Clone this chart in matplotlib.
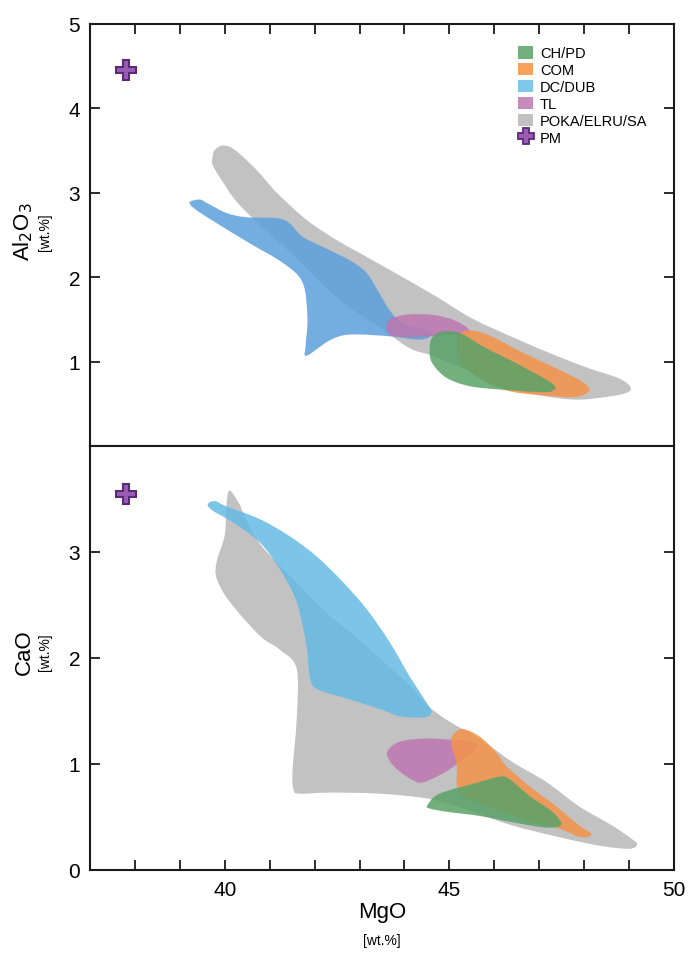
import numpy as np
import matplotlib
matplotlib.use("Agg")
import matplotlib.pyplot as plt
from matplotlib.path import Path
from matplotlib.patches import PathPatch, Patch
from matplotlib.lines import Line2D
from matplotlib.ticker import MultipleLocator

plt.rcParams['font.family'] = ['Liberation Sans', 'DejaVu Sans']

# ---------------------------------------------------------------- data
groups = ["CH/PD", "COM", "DC/DUB", "TL", "POKA/ELRU/SA"]
legend_colors = ["#72b07f", "#f6a35e", "#7ec8ea", "#c88bbd", "#c0c1c0"]

# fill colours (drawn with alpha)
fill_green = "#59a268"
fill_orange = "#f4934a"
fill_blue_al = "#5ca0db"
fill_blue_ca = "#65bae4"
fill_pink = "#be76b1"
fill_gray = "#b8b8b8"

# Primitive mantle
pm_mgo = 37.8
pm_al2o3 = 4.45
pm_cao = 3.55

# Field outlines, MgO vs Al2O3 (wt.%)
al_poka_mgo = [39.73, 39.78, 39.96, 40.22, 40.71, 41.16, 41.82, 42.49, 43.16, 43.96,
               44.71, 45.51, 46.49, 47.38, 48.11, 48.78, 49.04, 48.89, 48.33, 47.78,
               47.0, 46.11, 45.44, 44.62, 44.11, 43.38, 42.62, 42.04, 41.44, 40.78,
               40.27, 39.93, 39.73]
al_poka_al = [3.43, 3.51, 3.56, 3.51, 3.27, 3.00, 2.68, 2.44, 2.24, 2.00,
              1.77, 1.51, 1.27, 1.07, 0.92, 0.80, 0.69, 0.62, 0.57, 0.55,
              0.60, 0.71, 0.89, 1.07, 1.16, 1.43, 1.70, 1.99, 2.30, 2.62,
              2.89, 3.15, 3.33]

al_dc_mgo = [39.22, 39.44, 39.6, 40.04, 40.49, 41.16, 41.44, 41.73, 42.18, 42.78,
             43.16, 43.44, 43.67, 43.96, 44.49, 44.6, 44.33, 43.67, 42.78, 42.33,
             41.82, 41.8, 41.84, 41.73, 41.29, 40.56, 39.82, 39.33]
al_dc_al = [2.89, 2.92, 2.88, 2.76, 2.71, 2.70, 2.64, 2.48, 2.36, 2.20,
            2.05, 1.81, 1.61, 1.45, 1.37, 1.31, 1.26, 1.30, 1.32, 1.25,
            1.07, 1.19, 1.52, 1.94, 2.17, 2.40, 2.64, 2.81]

al_tl_mgo = [43.6, 43.71, 44.11, 44.67, 45.11, 45.4, 45.44, 45.11, 44.56, 44.0, 43.67]
al_tl_al = [1.43, 1.51, 1.56, 1.55, 1.49, 1.40, 1.33, 1.32, 1.30, 1.29, 1.32]

al_com_mgo = [45.22, 45.44, 45.89, 46.62, 47.38, 47.96, 48.11, 47.78, 47.11, 46.33,
              45.67, 45.27, 45.16]
al_com_al = [1.32, 1.37, 1.31, 1.11, 0.92, 0.76, 0.65, 0.58, 0.60, 0.65,
             0.80, 0.99, 1.19]

al_ch_mgo = [44.62, 44.89, 45.27, 45.78, 46.49, 47.29, 47.29, 46.93, 46.11, 45.44,
             44.93, 44.62, 44.56]
al_ch_al = [1.29, 1.36, 1.33, 1.17, 0.98, 0.74, 0.65, 0.64, 0.67, 0.71,
            0.81, 0.98, 1.13]

# Field outlines, MgO vs CaO (wt.%)
ca_poka_mgo = [40.11, 40.33, 40.4, 40.78, 41.51, 42.18, 43.16, 44.11, 44.49, 45.0,
               45.67, 46.4, 47.16, 47.89, 48.62, 49.07, 49.18, 49.0, 48.33, 47.44,
               46.4, 45.44, 44.56, 43.44, 42.33, 41.67, 41.53, 41.51, 41.6, 41.6,
               41.22, 40.78, 40.11, 39.82, 39.82, 40.0, 40.04]
ca_poka_ca = [3.58, 3.45, 3.38, 3.08, 2.75, 2.46, 2.11, 1.74, 1.56, 1.40,
              1.24, 1.02, 0.83, 0.60, 0.42, 0.29, 0.24, 0.20, 0.23, 0.31,
              0.42, 0.56, 0.67, 0.72, 0.73, 0.72, 0.76, 0.95, 1.42, 1.90,
              2.08, 2.21, 2.53, 2.75, 2.91, 3.16, 3.46]

ca_dc_mgo = [39.62, 39.78, 40.04, 40.78, 41.44, 42.04, 42.62, 43.16, 43.67, 44.11,
             44.49, 44.6, 44.44, 43.89, 43.51, 42.78, 42.04, 41.89, 41.82, 41.6,
             41.22, 40.78, 40.18, 39.73]
ca_dc_ca = [3.45, 3.48, 3.43, 3.31, 3.15, 2.96, 2.72, 2.46, 2.15, 1.83,
            1.58, 1.49, 1.44, 1.45, 1.51, 1.61, 1.71, 1.83, 2.11, 2.53,
            2.84, 3.09, 3.28, 3.39]

ca_tl_mgo = [43.62, 43.89, 44.44, 45.0, 45.49, 45.62, 45.33, 44.89, 44.44, 44.22, 43.89, 43.67]
ca_tl_ca = [1.12, 1.21, 1.24, 1.23, 1.21, 1.16, 1.05, 0.92, 0.83, 0.84, 0.93, 1.03]

ca_com_mgo = [45.07, 45.29, 45.67, 46.04, 46.27, 46.78, 47.38, 47.89, 48.16, 47.93,
              47.44, 46.78, 46.11, 45.44, 45.18, 45.16, 45.04]
ca_com_ca = [1.27, 1.33, 1.26, 1.11, 0.98, 0.79, 0.60, 0.42, 0.34, 0.31,
             0.39, 0.46, 0.56, 0.67, 0.76, 1.0, 1.19]

ca_ch_mgo = [44.51, 44.78, 45.67, 46.11, 46.33, 46.78, 47.29, 47.49, 47.16, 46.4,
             45.67, 44.93, 44.56]
ca_ch_ca = [0.61, 0.72, 0.83, 0.88, 0.86, 0.70, 0.55, 0.43, 0.40, 0.45,
            0.51, 0.55, 0.58]


# ---------------------------------------------------------------- helpers
def smooth_field(x, y):
    """Closed Catmull-Rom outline through the given vertices as a Bezier path."""
    pts = np.column_stack([x, y]).astype(float)
    n = len(pts)
    verts = [pts[0]]
    codes = [Path.MOVETO]
    for i in range(n):
        p0, p1, p2, p3 = pts[i - 1], pts[i], pts[(i + 1) % n], pts[(i + 2) % n]
        verts += [p1 + (p2 - p0) / 6.0, p2 - (p3 - p1) / 6.0, p2]
        codes += [Path.CURVE4] * 3
    verts.append(pts[0])
    codes.append(Path.CLOSEPOLY)
    return Path(verts, codes)


def draw_field(ax, x, y, color, alpha=0.85):
    ax.add_patch(PathPatch(smooth_field(x, y), facecolor=color, edgecolor="none",
                           alpha=alpha, zorder=2))


def style_axes(ax, top, bottom):
    ax.set_xlim(37, 50)
    ax.xaxis.set_major_locator(MultipleLocator(5))
    ax.xaxis.set_minor_locator(MultipleLocator(1))
    ax.tick_params(which="both", direction="in", length=7, width=1.3,
                   labelsize=15, pad=7, top=top, bottom=bottom, right=True,
                   color="#1a1a1a")
    for s in ax.spines.values():
        s.set_linewidth(1.5)
        s.set_color("#1a1a1a")


W, H = 688, 954
fig = plt.figure(figsize=(W / 100, H / 100), dpi=100)
ax1 = fig.add_axes([90 / W, 1 - 447 / H, 584 / W, 422 / H])
ax2 = fig.add_axes([90 / W, 1 - 871 / H, 584 / W, 424 / H])

# ---- MgO vs Al2O3
draw_field(ax1, al_poka_mgo, al_poka_al, fill_gray)
draw_field(ax1, al_dc_mgo, al_dc_al, fill_blue_al)
draw_field(ax1, al_tl_mgo, al_tl_al, fill_pink)
draw_field(ax1, al_com_mgo, al_com_al, fill_orange)
draw_field(ax1, al_ch_mgo, al_ch_al, fill_green)
ax1.plot([pm_mgo], [pm_al2o3], marker="P", ms=15, mfc="#9b5cb4", mec="#5a2a78",
         mew=1.5, ls="none", zorder=5)
style_axes(ax1, top=True, bottom=False)
ax1.set_ylim(0, 5)
ax1.set_yticks([1, 2, 3, 4, 5])
ax1.tick_params(axis="x", which="both", labelbottom=False)

# ---- MgO vs CaO
draw_field(ax2, ca_poka_mgo, ca_poka_ca, fill_gray)
draw_field(ax2, ca_dc_mgo, ca_dc_ca, fill_blue_ca)
draw_field(ax2, ca_tl_mgo, ca_tl_ca, fill_pink)
draw_field(ax2, ca_com_mgo, ca_com_ca, fill_orange)
draw_field(ax2, ca_ch_mgo, ca_ch_ca, fill_green)
ax2.plot([pm_mgo], [pm_cao], marker="P", ms=15, mfc="#9b5cb4", mec="#5a2a78",
         mew=1.5, ls="none", zorder=5)
style_axes(ax2, top=False, bottom=True)
ax2.set_ylim(0, 4)
ax2.set_yticks([0, 1, 2, 3])

# ---- legend
handles = [Patch(facecolor=c, edgecolor="none") for c in legend_colors]
handles.append(Line2D([], [], marker="P", ms=11, mfc="#9b5cb4", mec="#5a2a78",
                      mew=1.3, ls="none"))
labels = groups + ["PM"]
ax1.legend(handles, labels, loc="upper left", bbox_to_anchor=(0.733, 0.948),
           frameon=False, fontsize=10.5, handlelength=1.05, handleheight=0.95,
           handletextpad=0.45, labelspacing=0.18, borderpad=0, borderaxespad=0)

# ---- axis titles
fig.text(23 / W, 1 - 232 / H, r"Al$_2$O$_3$", rotation=90, ha="center", va="center",
         fontsize=16)
fig.text(45 / W, 1 - 232 / H, "[wt.%]", rotation=90, ha="center", va="center",
         fontsize=10)
fig.text(24 / W, 1 - 652 / H, "CaO", rotation=90, ha="center", va="center",
         fontsize=16)
fig.text(45 / W, 1 - 652 / H, "[wt.%]", rotation=90, ha="center", va="center",
         fontsize=10)
fig.text((90 + 674) / 2 / W, 1 - 913 / H, "MgO", ha="center", va="center",
         fontsize=16)
fig.text((90 + 674) / 2 / W, 1 - 941 / H, "[wt.%]", ha="center", va="center",
         fontsize=10)

fig.savefig("out.png", dpi=100, facecolor="white")
